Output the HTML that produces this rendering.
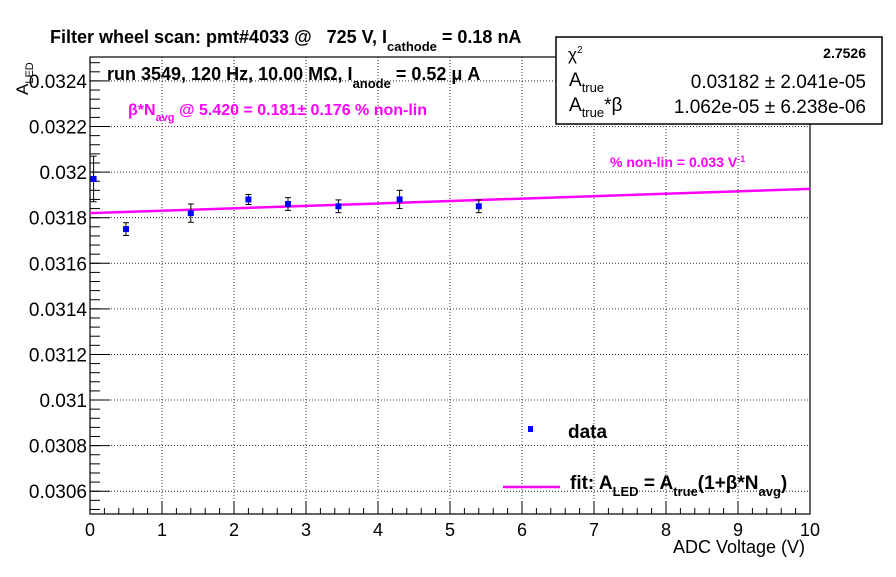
<!DOCTYPE html>
<html><head><meta charset="utf-8"><style>
body{margin:0;background:#fff;}
svg text{font-family:"Liberation Sans",sans-serif;white-space:pre;}
</style></head><body>
<svg id="c" width="896" height="572" xmlns="http://www.w3.org/2000/svg">
<rect width="896" height="572" fill="#fff"/>
<g id="grid"></g>
<g id="axes"></g>
<g id="marks"></g>
<text x="50" y="43" font-size="18" font-weight="bold" xml:space="preserve">Filter wheel scan: pmt#4033 @   725 V, I<tspan dy="8" font-size="13">cathode</tspan><tspan dy="-8"> = 0.18 nA</tspan></text>
<text x="107" y="80" font-size="18" font-weight="bold">run 3549, 120 Hz, 10.00 MΩ, I<tspan dy="8" font-size="13">anode</tspan><tspan dy="-8"> = 0.52 μ A</tspan></text>
<text x="128" y="115" font-size="16" font-weight="bold" fill="#f0f">β*N<tspan dy="6" font-size="11">avg</tspan><tspan dy="-6"> @ 5.420 = 0.181± 0.176 % non-lin</tspan></text>
<text x="610" y="167" font-size="14" font-weight="bold" fill="#f0f">% non-lin = 0.033 V<tspan dy="-5" font-size="9">-1</tspan></text>
<text transform="translate(28,95) rotate(-90)" font-size="17">A<tspan dy="5" font-size="11">LED</tspan></text>
<text x="805" y="553" font-size="18" text-anchor="end">ADC Voltage (V)</text>
<g>
<rect x="556" y="37" width="326" height="87" fill="#fff" stroke="#000" stroke-width="1.5"/>
<text x="568" y="60" font-size="17">χ<tspan dy="-7" font-size="10">2</tspan></text>
<text x="866" y="58" font-size="14" font-weight="bold" text-anchor="end">2.7526</text>
<text x="569" y="86" font-size="19">A<tspan dy="6" font-size="13">true</tspan></text>
<text x="866" y="88" font-size="19" text-anchor="end">0.03182 ± 2.041e-05</text>
<text x="569" y="111" font-size="19">A<tspan dy="6" font-size="13">true</tspan><tspan dy="-6">*β</tspan></text>
<text x="866" y="113" font-size="19" text-anchor="end">1.062e-05 ± 6.238e-06</text>
</g>
<g>
<rect x="528" y="426" width="5" height="6" fill="#00f"/>
<text x="568" y="438" font-size="19" font-weight="bold">data</text>
<line x1="503" y1="487" x2="560" y2="487" stroke="#f0f" stroke-width="2.5"/>
<text x="570" y="489" font-size="19" font-weight="bold">fit: A<tspan dy="7" font-size="13">LED</tspan><tspan dy="-7"> = A</tspan><tspan dy="7" font-size="13">true</tspan><tspan dy="-7">(1+β*N</tspan><tspan dy="7" font-size="13">avg</tspan><tspan dy="-7">)</tspan></text>
</g>
</svg>
<script>
const xVals=[0.05,0.5,1.4,2.2,2.75,3.45,4.3,5.4];
const yVals=[0.03197,0.03175,0.03182,0.03188,0.03186,0.03185,0.03188,0.03185];
const yErrs=[0.0001,0.000028,0.00004,0.000022,0.000028,0.000028,0.00004,0.000028];
const fitA=0.03182;
const fitB=1.062e-5;
const xTicks=[0,1,2,3,4,5,6,7,8,9,10];
const yTicks=[0.0306,0.0308,0.031,0.0312,0.0314,0.0316,0.0318,0.032,0.0322,0.0324];
const L=90,R=810,T=57,B=514,X0=0,X1=10,Y0=0.0305,Y1=0.032505;
const sx=v=>L+(v-X0)/(X1-X0)*(R-L);
const sy=v=>B-(v-Y0)/(Y1-Y0)*(B-T);
const NS='http://www.w3.org/2000/svg';
function mk(p,t,a){const e=document.createElementNS(NS,t);for(const k in a)e.setAttribute(k,a[k]);p.appendChild(e);return e;}
const grid=document.getElementById('grid'),axes=document.getElementById('axes'),marks=document.getElementById('marks');
xTicks.forEach(v=>{
 if(v>0&&v<10){const g=mk(grid,'line',{x1:sx(v),x2:sx(v),y1:T,y2:B,stroke:'#000','stroke-width':0.8,'stroke-dasharray':'1,2'});
 
 }
 const tk=mk(axes,'line',{x1:sx(v),x2:sx(v),y1:B,y2:B-13,stroke:'#000'});
 
 
 const t=mk(axes,'text',{x:sx(v),y:B+22,'font-size':18,'text-anchor':'middle'});t.textContent=v;
 
 
});
for(let v=0.2;v<10;v+=0.2){if(Math.abs(v-Math.round(v))<1e-6)continue;mk(axes,'line',{x1:sx(v),x2:sx(v),y1:B,y2:B-6,stroke:'#000'});}
yTicks.forEach(v=>{
 const g=mk(grid,'line',{x1:L,x2:R,y1:sy(v),y2:sy(v),stroke:'#000','stroke-width':0.8,'stroke-dasharray':'1,2'});
 
 
 mk(axes,'line',{x1:L,x2:L+20,y1:sy(v),y2:sy(v),stroke:'#000'});
 const t=mk(axes,'text',{x:L-3,y:sy(v)+7,'font-size':19,'text-anchor':'end'});t.textContent=String(v);
 
 
});
for(let v=0.03052;v<0.0325;v+=0.00004){mk(axes,'line',{x1:L,x2:L+10,y1:sy(v),y2:sy(v),stroke:'#000'});}
const fr=mk(axes,'rect',{x:L,y:T,width:R-L,height:B-T,fill:'none',stroke:'#000','stroke-width':1.2});


const fl=mk(marks,'line',{x1:sx(X0),y1:sy(fitA+fitB*X0),x2:sx(X1),y2:sy(fitA+fitB*X1),stroke:'#f0f','stroke-width':2.5});


xVals.forEach((x,i)=>{
 const g=mk(marks,'g',{});
 
 
 const cx=sx(x),cy=sy(yVals[i]),t=sy(yVals[i]+yErrs[i]),b=sy(yVals[i]-yErrs[i]);
 mk(g,'line',{x1:cx,x2:cx,y1:t,y2:b,stroke:'#000'});
 mk(g,'line',{x1:cx-3,x2:cx+3,y1:t,y2:t,stroke:'#000'});
 mk(g,'line',{x1:cx-3,x2:cx+3,y1:b,y2:b,stroke:'#000'});
 mk(g,'rect',{x:cx-3,y:cy-3,width:6,height:6,fill:'#00f'});
});
</script>
</body></html>
